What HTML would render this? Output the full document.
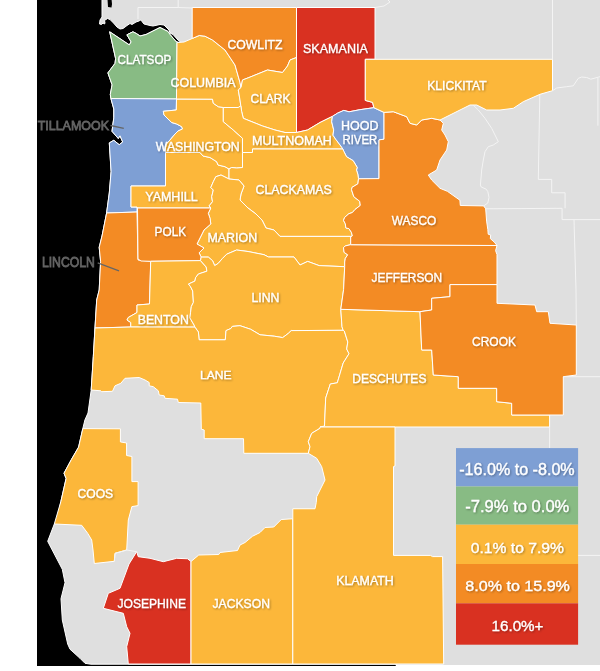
<!DOCTYPE html>
<html><head><meta charset="utf-8"><style>
html,body{margin:0;padding:0;background:#fff;width:600px;height:671px;overflow:hidden}
svg{display:block}
text{font-family:"Liberation Sans",sans-serif}
</style></head><body>
<svg width="600" height="671" viewBox="0 0 600 671">
<defs>
<filter id="sh" x="-10%" y="-30%" width="120%" height="160%"><feGaussianBlur in="SourceAlpha" stdDeviation="0.8"/><feOffset dx="0.6" dy="0.8" result="b"/><feComponentTransfer><feFuncA type="linear" slope="0.35"/></feComponentTransfer><feMerge><feMergeNode/><feMergeNode in="SourceGraphic"/></feMerge></filter>
</defs>
<rect x="0" y="0" width="600" height="671" fill="#fff"/>
<rect x="37" y="0" width="359" height="666" fill="#000"/>

<polygon points="102,-2 102,0 102,17 100,20 99.5,24 101.5,24.5 103,23 104.5,24 105,23 104.5,20.5 107.5,18.5 110,19.5 113.5,23 117,27 120,29 123,28.5 127,25.5 130,23.5 132,24.5 136,22 139,21 140.5,20 142,21.5 144,24 150,25.5 153,26 160,24.5 164,25 169,30 170,33 173,34.5 178,40 180,41.5 179,42.5 176,41.5 170,34.5 168,31.5 160,27.5 146,34.5 140,36 136.5,33.6 132.9,31.8 126.9,34.8 131.1,41.9 129.3,44.9 109.7,31.8 115.6,58.6 115,63.4 107.9,72.9 112.1,84.8 110.3,94.4 110.9,98.5 113.8,109 113.8,117.9 112.9,124.2 112,131.3 118.3,138.5 120,135.8 122.7,142 119.2,144.7 113.8,140.3 109.3,142.9 111.1,171.6 109.3,193 106.6,213 102,236 99.2,247.3 100.6,261.5 99.2,290 96.7,300 95,327 93.3,356.7 91.2,390 88,413 84.9,420 82.8,428.6 78.6,447.1 71.3,459.7 64,473.2 66.1,478.5 60.9,501.4 56.7,523.3 54.3,524 47.7,541.3 62.3,569.3 65,582.7 61,598.7 62.3,620 67.7,644 70,649.2 80,658.3 85,663.3 90.8,664.2 396,664.2 396,665.5 602,665.5 602,-2" fill="#dfdfdf" stroke="#fff" stroke-width="1" stroke-linejoin="round"/>
<polygon points="107.5,-1 108,7 111.5,7.5 112,4 111.5,-1" fill="#000"/>
<polygon points="109.7,31.8 129.3,44.9 131.1,41.9 126.9,34.8 132.9,31.8 136.5,33.6 140,36 146,34.5 160,27.5 168,31.5 170,34.5 176,41.5 177,42.5 176.5,99 110.9,98.5 110.3,94.4 112.1,84.8 107.9,72.9 115,63.4 115.6,58.6" fill="#88bb84" stroke="#fff" stroke-width="1" stroke-linejoin="round"/>
<polygon points="110.9,98.5 176.5,99 176.3,110 163.3,111.3 164,115 168,119 171.7,122.5 176.7,124 181.7,126.7 182.5,129 178,131 175,134 170,140 165.5,145 165.5,186 131,186 131,207 137,207 137,212 106.6,213 109.3,193 111.1,171.6 109.3,142.9 113.8,140.3 119.2,144.7 122.7,142 120,135.8 118.3,138.5 112,131.3 112.9,124.2 113.8,117.9 113.8,109" fill="#7e9fd4" stroke="#fff" stroke-width="1" stroke-linejoin="round"/>
<polygon points="106.6,213 137,212 138,260 150.7,261.3 149.5,304 137,305 137,312.5 128.25,317.5 127,320 130.75,322.5 130.75,327 95,328 96.7,300 99.2,290 100.6,261.5 99.2,247.3 102,236" fill="#f38b24" stroke="#fff" stroke-width="1" stroke-linejoin="round"/>
<polygon points="131,186 165.5,186 165.5,152.5 200,152.5 203,156 210,157.5 216.7,161.7 218,165 225,166.7 229,169 229,179 221,175 215.8,176.7 213.3,181.7 210.8,187.5 213.3,190 211.7,196.7 212.5,201.7 209.2,205.8 210.8,208 137.5,208 137,207 131,207" fill="#fcb73a" stroke="#fff" stroke-width="1" stroke-linejoin="round"/>
<polygon points="176.5,99 212.5,99.2 213.3,103.3 218.3,106.7 223.3,107.5 223.3,121.7 233.3,130 242.5,138.3 242.5,167.5 236.7,168 231.7,167.5 229,169 225,166.7 218,165 216.7,161.7 210,157.5 203,156 200,152.5 165.5,152.5 165.5,145 170,140 175,134 178,131 182.5,129 181.7,126.7 176.7,124 171.7,122.5 168,119 164,115 163.3,111.3 176.3,110" fill="#fcb73a" stroke="#fff" stroke-width="1" stroke-linejoin="round"/>
<polygon points="177,42.5 184,42 192.2,38.5 199.2,35.5 205,36.2 212.5,40 225,50 235,65 240,82.5 241,87.5 238.3,90 240,100 240.8,105.8 238.3,107.5 223.3,107.5 218.3,106.7 213.3,103.3 212.5,99.2 176.5,99" fill="#fcb73a" stroke="#fff" stroke-width="1" stroke-linejoin="round"/>
<polygon points="192.2,7.5 296.5,7.5 296.5,57.5 290,60 287.5,66 282.5,72.5 267.5,70 249,77.5 242.5,80 241,87.5 240,82.5 235,65 225,50 212.5,40 205,36.2 199.2,35.5 192.2,38.5" fill="#f38b24" stroke="#fff" stroke-width="1" stroke-linejoin="round"/>
<polygon points="241,87.5 242.5,80 249,77.5 267.5,70 282.5,72.5 287.5,66 290,60 296.5,57.5 296.5,132.5 285,132.5 275,130 262.5,126 250,121 243.3,118.3 241.7,111.7 240.8,105.8 240,100 238.3,90" fill="#fcb73a" stroke="#fff" stroke-width="1" stroke-linejoin="round"/>
<polygon points="296.5,7.5 375,7.5 375,59.3 365.3,59.3 365.3,100.4 372.6,102.4 373.9,107.7 359.9,109.7 349.1,111.8 343.8,110.4 337.7,113.1 332.4,116.4 320,122.5 307.5,130 296.5,132.5" fill="#d93121" stroke="#fff" stroke-width="1" stroke-linejoin="round"/>
<polygon points="223.3,107.5 238.3,107.5 240.8,105.8 241.7,111.7 243.3,118.3 250,121 262.5,126 275,130 285,132.5 296.5,132.5 307.5,130 320,122.5 332.4,116.4 331.7,121.8 333.7,129.9 333,135.2 335.7,139.2 341.8,147.3 342.8,149 252.5,149 252.5,152.5 242.5,152.5 242.5,138.3 233.3,130 223.3,121.7" fill="#fcb73a" stroke="#fff" stroke-width="1" stroke-linejoin="round"/>
<polygon points="332.4,116.4 337.7,113.1 343.8,110.4 349.1,111.8 359.9,109.7 373.9,107.7 384,112.4 384,139.2 379,139.9 379,178.6 358.5,178.8 357.8,174.1 356.5,170.1 357.2,167.4 353.2,160.7 346.5,156.7 343.8,151.3 342.8,149 341.8,147.3 335.7,139.2 333,135.2 333.7,129.9 331.7,121.8" fill="#7e9fd4" stroke="#fff" stroke-width="1" stroke-linejoin="round"/>
<polygon points="242.5,152.5 252.5,152.5 252.5,149 342.8,149 343.8,151.3 346.5,156.7 353.2,160.7 357.2,167.4 356.5,170.1 357.8,174.1 358.5,178.8 357.9,183.8 352.1,187.3 351.5,189.7 353.8,196.7 359.7,201.3 360.3,205.4 355,209.5 352.4,212.5 348.9,213.7 344.7,217.3 343.5,220.3 345.3,223.8 345.9,228 348.9,228.6 351.3,232.2 352.4,235.8 350.7,236.4 280,236.4 274,230 266,228 262,220 256,214 248,208 240,200 241,194 244,186 239,180 229,179 229,169 231.7,167.5 236.7,168 242.5,167.5" fill="#fcb73a" stroke="#fff" stroke-width="1" stroke-linejoin="round"/>
<polygon points="210.8,208 209.2,205.8 212.5,201.7 211.7,196.7 213.3,190 210.8,187.5 213.3,181.7 215.8,176.7 221,175 229,179 239,180 244,186 241,194 240,200 248,208 256,214 262,220 266,228 274,230 280,236.4 350.7,236.4 350.7,244.7 345.3,245.9 343.5,247.7 344.1,252.4 347.7,254.8 345.3,258.4 344.7,262 344.7,266.7 319.1,265.6 307.7,261.4 300,265 294,257 268.5,257 264,254.7 248,251.5 236.6,250 226.7,254.2 222.4,258.5 218.2,263.4 214.7,265.6 212.5,260.6 208.3,257.1 201.2,257.1 199.1,252.8 204,248 197,244 199,240 204,230 210.8,224 210,218.3 208.3,213.3" fill="#fcb73a" stroke="#fff" stroke-width="1" stroke-linejoin="round"/>
<polygon points="137.5,208 210.8,208 208.3,213.3 210,218.3 210.8,224 204,230 199,240 197,244 204,248 199.1,252.8 201.2,257.1 200.5,260.6 150.7,261.3 141,261 138,259" fill="#f38b24" stroke="#fff" stroke-width="1" stroke-linejoin="round"/>
<polygon points="150.7,261.3 200.5,260.6 206.2,267 206.9,271.2 198.4,274 195.6,277.6 194.9,281.1 188.5,284 190.6,286.8 192.7,291 193.4,302.3 191.3,306.6 190.6,312.2 189.9,317.9 194.1,325 194.9,327.1 130.75,327 130.75,322.5 127,320 128.25,317.5 137,312.5 137,305 149.5,304" fill="#fcb73a" stroke="#fff" stroke-width="1" stroke-linejoin="round"/>
<polygon points="200.5,260.6 201.2,257.1 208.3,257.1 212.5,260.6 214.7,265.6 218.2,263.4 222.4,258.5 226.7,254.2 236.6,250 248,251.5 264,254.7 268.5,257 294,257 300,265 307.7,261.4 319.1,265.6 344.7,266.7 343.6,289.5 340.8,309.3 342,326.8 343.2,330.3 291.2,330.6 288.3,333.4 282.7,337.6 274.2,336.2 260,334.8 250.7,329.3 240,325.7 232.3,326.4 230.9,328.5 226,330.6 225.3,339.8 199.1,339.8 198.4,332 194.9,327.1 194.1,325 189.9,317.9 190.6,312.2 191.3,306.6 193.4,302.3 192.7,291 190.6,286.8 188.5,284 194.9,281.1 195.6,277.6 198.4,274 206.9,271.2 206.2,267" fill="#fcb73a" stroke="#fff" stroke-width="1" stroke-linejoin="round"/>
<polygon points="95,328 130.75,327 194.9,327.1 198.4,332 199.1,339.8 225.3,339.8 226,330.6 230.9,328.5 232.3,326.4 240,325.7 250.7,329.3 260,334.8 274.2,336.2 282.7,337.6 288.3,333.4 291.2,330.6 343.2,330.3 344.3,331 347.8,342 346.7,349 349,353.7 343.2,363 337.3,382.8 330.3,384 325.7,398 324.5,426 320,428.3 311.7,433.3 308.3,441.7 310,446.7 308.3,453.3 243.8,453.3 243.5,438.7 204.2,438.7 204.2,430 201.3,429.2 200.8,403 178.3,402.5 177.5,399.2 165,398.3 164.2,395.8 159.2,395 158.3,390.8 153.3,386.7 149.2,385.8 149.2,382.5 145,380 139.2,377.5 125,378.3 120.8,383.3 115,385.8 112.5,391.3 101.7,391.7 100.8,390.8 91.2,390 93.3,356.7" fill="#fcb73a" stroke="#fff" stroke-width="1" stroke-linejoin="round"/>
<polygon points="340.8,309.3 420,311.7 421.7,350 431.7,350 433.3,375 458.3,376.7 458.3,388.3 496.7,388.3 496.7,401.7 511.7,403.3 511.7,415 549.6,415 549.6,427 395,427 320,427 324.5,426 325.7,398 330.3,384 337.3,382.8 343.2,363 349,353.7 346.7,349 347.8,342 344.3,331 343.2,330.3 342,326.8" fill="#fcb73a" stroke="#fff" stroke-width="1" stroke-linejoin="round"/>
<polygon points="350.7,244.7 497,245.5 495.6,250.6 497,254.6 497,284.6 450,284.6 450,296.7 431.7,298.3 431.7,310 420,311.7 340.8,309.3 343.6,289.5 344.7,266.7 344.7,262 345.3,258.4 347.7,254.8 344.1,252.4 343.5,247.7 345.3,245.9" fill="#f38b24" stroke="#fff" stroke-width="1" stroke-linejoin="round"/>
<polygon points="420,311.7 431.7,310 431.7,298.3 450,296.7 450,284.6 497,284.6 497,303.3 535,305 536.7,311.7 548.3,311.7 550,323.3 576.3,325 576.3,375 563.3,376.7 563.3,415 511.7,415 511.7,403.3 496.7,401.7 496.7,388.3 458.3,388.3 458.3,376.7 433.3,375 431.7,350 421.7,350" fill="#f38b24" stroke="#fff" stroke-width="1" stroke-linejoin="round"/>
<polygon points="358.5,178.8 379,178.6 379,139.9 384,139.2 384,112.4 393.3,111.7 406.7,116.7 410,123.3 416.7,125 421.7,120 431.7,118.3 440,120 443.3,123.3 441.7,130 445,135 448.3,141.7 446.7,150 440,160 436.7,170 428.3,175 431.7,180 440,188.3 447.4,191.3 459.9,200.2 460.3,205.5 483.7,205.9 485.7,208.8 486.6,221.1 487.8,229.3 488.2,234.2 490.7,235 490.3,238.6 494.3,242.1 497,245.5 350.7,244.7 350.7,236.9 352.4,235.8 351.3,232.2 348.9,228.6 345.9,228 345.3,223.8 343.5,220.3 344.7,217.3 348.9,213.7 352.4,212.5 355,209.5 360.3,205.4 359.7,201.3 353.8,196.7 351.5,189.7 352.1,187.3 357.9,183.8" fill="#f38b24" stroke="#fff" stroke-width="1" stroke-linejoin="round"/>
<polygon points="365.3,59.3 552.5,59.3 552.5,90.7 540,94.3 523.3,101.7 513.3,108.3 500,110 486.7,110 476.7,105 470,105 460,110 450,115 440,120 431.7,118.3 421.7,120 416.7,125 410,123.3 406.7,116.7 393.3,111.7 384,112.4 373.9,107.7 372.6,102.4 365.3,100.4" fill="#fcb73a" stroke="#fff" stroke-width="1" stroke-linejoin="round"/>
<polygon points="82.8,428.6 120.4,428.8 120.4,441.9 126.6,443 126.6,455.5 131.9,456.5 131.9,481.6 138.1,481.6 138.1,505.6 131.9,506.6 128.3,520 126.7,550 115,553.3 114.3,561.3 94.3,563.5 93,550 91.7,540 87.7,533.3 81.7,525.3 54.3,524 60.9,501.4 66.1,478.5 64,473.2 71.3,459.7 78.6,447.1" fill="#fcb73a" stroke="#fff" stroke-width="1" stroke-linejoin="round"/>
<polygon points="136.7,551.7 138.3,556.7 150,558.3 163.3,561.7 176.7,558.3 187.5,558.75 191,561.5 191,664 128.3,664 126.7,646.7 130,633.3 126.7,626.7 123.3,613.3 103.3,608.3 108.3,593.3 120,588.3 129,564" fill="#d93121" stroke="#fff" stroke-width="1" stroke-linejoin="round"/>
<polygon points="191,561.5 198.75,555 218.75,554.5 220,552.5 237.5,550.5 240,545 245,542.5 252.5,536.25 260,532.5 265,527.5 273.75,527 281.25,519.5 292.8,518.75 292.8,664 191,664" fill="#fcb73a" stroke="#fff" stroke-width="1" stroke-linejoin="round"/>
<polygon points="292.8,508.75 315,508.75 316.25,502.5 316.7,496.7 320,490 325,480 321.7,466.7 316.7,458.3 308.3,453.3 310,446.7 308.3,441.7 311.7,433.3 320,428.3 320,427 395,427 395,466 393.5,466.6 393.5,555.4 430.5,555.4 432.5,556.6 442.6,556.6 443.7,664 292.8,664" fill="#fcb73a" stroke="#fff" stroke-width="1" stroke-linejoin="round"/>
<polyline points="178.2,0 178.2,7.5 138,7.5 138,19" fill="none" stroke="#f4f4f4" stroke-width="1"/>
<polyline points="178.2,7.5 192.2,8" fill="none" stroke="#f4f4f4" stroke-width="1"/>
<polyline points="375,7.5 384,6 390,2 388,0" fill="none" stroke="#f4f4f4" stroke-width="1"/>
<polyline points="552.5,0 552.5,59.3" fill="none" stroke="#f4f4f4" stroke-width="1"/>
<polyline points="552.5,90.7 556.7,88 566.7,86.7 573.3,85.8 578.3,78.3 581.7,77 586.7,77.5 590.8,79.2 600,76.7" fill="none" stroke="#f4f4f4" stroke-width="1"/>
<polyline points="597.9,78 597.9,125.7" fill="none" stroke="#f4f4f4" stroke-width="1"/>
<polyline points="473,105 478.3,110 485,118.3 491.7,128.3 495,135 498.3,141.7 493.3,145 488.3,146.7 485,151.7 483.3,160 481.7,170 480.4,185 481.2,187 486.1,189.1 487.8,191.6 489,197.3 487.8,203 483.7,205.9" fill="none" stroke="#f4f4f4" stroke-width="1"/>
<polyline points="485.7,208.8 562.1,208.3 562.1,219.6 600,219.6" fill="none" stroke="#f4f4f4" stroke-width="1"/>
<polyline points="539.8,94.5 538.3,179.4 551.7,179.4 551.7,192.8 565.1,192.8 565.1,208.3" fill="none" stroke="#f4f4f4" stroke-width="1"/>
<polyline points="574,219.6 576,290 576.3,325" fill="none" stroke="#f4f4f4" stroke-width="1"/>
<polyline points="563.3,376.7 600,376.7" fill="none" stroke="#f4f4f4" stroke-width="1"/>
<polyline points="549.6,427 549.6,448" fill="none" stroke="#f4f4f4" stroke-width="1"/>
<polyline points="578,555.4 600,555.4" fill="none" stroke="#f4f4f4" stroke-width="1"/>
<polyline points="114.3,561.3 115,553.3 126.7,550 136.7,551.7" fill="none" stroke="#f4f4f4" stroke-width="1"/>
<rect x="456" y="448.1" width="122.10" height="38.40" fill="#7e9fd4"/>
<rect x="456" y="486.5" width="122.10" height="38.20" fill="#88bb84"/>
<rect x="456" y="524.7" width="122.10" height="39.30" fill="#fcb73a"/>
<rect x="456" y="564" width="122.10" height="39.30" fill="#f38b24"/>
<rect x="456" y="603.3" width="122.10" height="41.40" fill="#d93121"/>
<g filter="url(#sh)">
<text x="459.20" y="474.90" font-size="15.86" font-weight="normal" fill="#fff" textLength="115.51" lengthAdjust="spacingAndGlyphs" stroke="#fff" stroke-width="0.3">-16.0% to -8.0%</text>
<text x="465.30" y="512.30" font-size="15.86" font-weight="normal" fill="#fff" textLength="104.02" lengthAdjust="spacingAndGlyphs" stroke="#fff" stroke-width="0.3">-7.9% to 0.0%</text>
<text x="470.70" y="552.80" font-size="15.43" font-weight="normal" fill="#fff" textLength="93.27" lengthAdjust="spacingAndGlyphs" stroke="#fff" stroke-width="0.3">0.1% to 7.9%</text>
<text x="465.30" y="590.90" font-size="15.00" font-weight="normal" fill="#fff" textLength="104.59" lengthAdjust="spacingAndGlyphs" stroke="#fff" stroke-width="0.3">8.0% to 15.9%</text>
<text x="491.50" y="630.90" font-size="15.00" font-weight="normal" fill="#fff" textLength="51.99" lengthAdjust="spacingAndGlyphs" stroke="#fff" stroke-width="0.3">16.0%+</text>
<text x="117.60" y="63.70" font-size="12.43" font-weight="normal" fill="#fff" textLength="53.69" lengthAdjust="spacingAndGlyphs" stroke="#fff" stroke-width="0.3">CLATSOP</text>
<text x="227.50" y="48.55" font-size="12.36" font-weight="normal" fill="#fff" textLength="54.99" lengthAdjust="spacingAndGlyphs" stroke="#fff" stroke-width="0.3">COWLITZ</text>
<text x="170.50" y="86.80" font-size="12.71" font-weight="normal" fill="#fff" textLength="64.98" lengthAdjust="spacingAndGlyphs" stroke="#fff" stroke-width="0.3">COLUMBIA</text>
<text x="250.50" y="102.80" font-size="12.36" font-weight="normal" fill="#fff" textLength="40.00" lengthAdjust="spacingAndGlyphs" stroke="#fff" stroke-width="0.3">CLARK</text>
<text x="303.00" y="52.80" font-size="12.86" font-weight="normal" fill="#fff" textLength="64.78" lengthAdjust="spacingAndGlyphs" stroke="#fff" stroke-width="0.3">SKAMANIA</text>
<text x="427.20" y="90.00" font-size="12.64" font-weight="normal" fill="#fff" textLength="59.48" lengthAdjust="spacingAndGlyphs" stroke="#fff" stroke-width="0.3">KLICKITAT</text>
<text x="341.10" y="130.00" font-size="12.57" font-weight="normal" fill="#fff" textLength="37.50" lengthAdjust="spacingAndGlyphs" stroke="#fff" stroke-width="0.3">HOOD</text>
<text x="342.40" y="143.70" font-size="12.61" font-weight="normal" fill="#fff" textLength="34.91" lengthAdjust="spacingAndGlyphs" stroke="#fff" stroke-width="0.3">RIVER</text>
<text x="155.75" y="150.60" font-size="12.14" font-weight="normal" fill="#fff" textLength="83.98" lengthAdjust="spacingAndGlyphs" stroke="#fff" stroke-width="0.3">WASHINGTON</text>
<text x="252.00" y="145.35" font-size="12.64" font-weight="normal" fill="#fff" textLength="79.80" lengthAdjust="spacingAndGlyphs" stroke="#fff" stroke-width="0.3">MULTNOMAH</text>
<text x="255.50" y="194.00" font-size="12.64" font-weight="normal" fill="#fff" textLength="76.28" lengthAdjust="spacingAndGlyphs" stroke="#fff" stroke-width="0.3">CLACKAMAS</text>
<text x="145.25" y="201.00" font-size="12.83" font-weight="normal" fill="#fff" textLength="52.50" lengthAdjust="spacingAndGlyphs" stroke="#fff" stroke-width="0.3">YAMHILL</text>
<text x="154.60" y="236.10" font-size="12.43" font-weight="normal" fill="#fff" textLength="31.48" lengthAdjust="spacingAndGlyphs" stroke="#fff" stroke-width="0.3">POLK</text>
<text x="207.50" y="241.70" font-size="12.86" font-weight="normal" fill="#fff" textLength="49.60" lengthAdjust="spacingAndGlyphs" stroke="#fff" stroke-width="0.3">MARION</text>
<text x="251.50" y="302.00" font-size="12.83" font-weight="normal" fill="#fff" textLength="27.98" lengthAdjust="spacingAndGlyphs" stroke="#fff" stroke-width="0.3">LINN</text>
<text x="137.70" y="324.05" font-size="12.64" font-weight="normal" fill="#fff" textLength="51.09" lengthAdjust="spacingAndGlyphs" stroke="#fff" stroke-width="0.3">BENTON</text>
<text x="391.80" y="225.30" font-size="13.07" font-weight="normal" fill="#fff" textLength="44.46" lengthAdjust="spacingAndGlyphs" stroke="#fff" stroke-width="0.3">WASCO</text>
<text x="371.50" y="282.05" font-size="13.14" font-weight="normal" fill="#fff" textLength="70.70" lengthAdjust="spacingAndGlyphs" stroke="#fff" stroke-width="0.3">JEFFERSON</text>
<text x="472.00" y="346.10" font-size="13.14" font-weight="normal" fill="#fff" textLength="44.02" lengthAdjust="spacingAndGlyphs" stroke="#fff" stroke-width="0.3">CROOK</text>
<text x="352.25" y="382.80" font-size="13.07" font-weight="normal" fill="#fff" textLength="74.17" lengthAdjust="spacingAndGlyphs" stroke="#fff" stroke-width="0.3">DESCHUTES</text>
<text x="200.00" y="378.80" font-size="11.74" font-weight="normal" fill="#fff" textLength="31.53" lengthAdjust="spacingAndGlyphs" stroke="#fff" stroke-width="0.3">LANE</text>
<text x="77.50" y="497.80" font-size="12.00" font-weight="normal" fill="#fff" textLength="35.70" lengthAdjust="spacingAndGlyphs" stroke="#fff" stroke-width="0.3">COOS</text>
<text x="336.20" y="584.50" font-size="12.75" font-weight="normal" fill="#fff" textLength="57.59" lengthAdjust="spacingAndGlyphs" stroke="#fff" stroke-width="0.3">KLAMATH</text>
<text x="117.50" y="608.30" font-size="13.43" font-weight="normal" fill="#fff" textLength="68.48" lengthAdjust="spacingAndGlyphs" stroke="#fff" stroke-width="0.3">JOSEPHINE</text>
<text x="212.50" y="608.30" font-size="13.43" font-weight="normal" fill="#fff" textLength="57.48" lengthAdjust="spacingAndGlyphs" stroke="#fff" stroke-width="0.3">JACKSON</text>
</g>
<g opacity="0.99">
<text x="37.70" y="129.70" font-size="13.29" font-weight="normal" fill="#666" textLength="71.28" lengthAdjust="spacingAndGlyphs" stroke="#666" stroke-width="0.8">TILLAMOOK</text>
<polyline points="110.5,125.5 123.8,128.3" stroke="#666" stroke-width="1.3" fill="none"/>
<text x="41.90" y="267.10" font-size="14.14" font-weight="normal" fill="#666" textLength="52.99" lengthAdjust="spacingAndGlyphs" stroke="#666" stroke-width="0.8">LINCOLN</text>
<polyline points="97.7,262.9 119,270.8" stroke="#666" stroke-width="1.3" fill="none"/>
</g>
</svg></body></html>
